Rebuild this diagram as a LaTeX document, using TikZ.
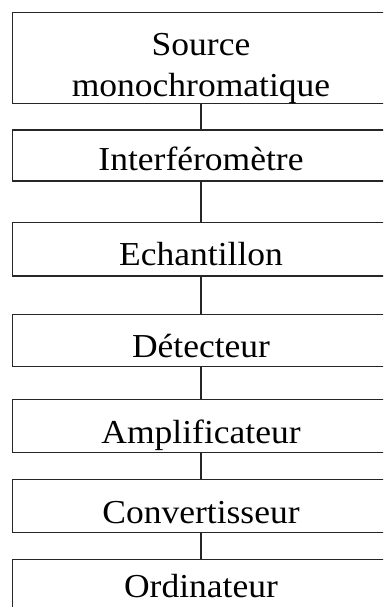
\documentclass[tikz,border=0pt]{standalone}
\usepackage{fontspec}
\setmainfont{Liberation Serif}
% slightly widened type for the stage names
\newcommand{\stagename}[1]{\scalebox{1.06}[1]{#1}}
\begin{document}
\begin{tikzpicture}[x=1pt, y=-1pt,
  box/.style={draw=black!85, line width=1.3pt, minimum width=376.6pt,
              inner sep=0pt, outer sep=0pt, anchor=north west},
  lbl/.style={font=\fontsize{33.5}{41}\selectfont, anchor=base, inner sep=0pt},
  link/.style={draw=black!85, line width=1.3pt}]
\useasboundingbox (0,0) rectangle (383,607);
\clip (0,0) rectangle (383,607);

% processing chain, top to bottom
\node[box, minimum height=91pt]   (src)  at (12.7,12.3)  {};
\node[box, minimum height=51pt]   (itf)  at (12.7,130)   {};
\node[box, minimum height=53.3pt] (ech)  at (12.7,222.7) {};
\node[box, minimum height=52.4pt] (det)  at (12.7,314.3) {};
\node[box, minimum height=53pt]   (amp)  at (12.7,399.3) {};
\node[box, minimum height=53pt]   (conv) at (12.7,479.3) {};
\node[box, minimum height=53pt]   (ord)  at (12.7,559.3) {};

% labels
\node[lbl] (tsrc1) at (201,56)    {\stagename{Source}};
\node[lbl] (tsrc2) at (201,96)    {\stagename{monochromatique}};
\node[lbl] (titf)  at (201,170)   {\stagename{Interféromètre}};
\node[lbl] (tech)  at (201,265)   {\stagename{Echantillon}};
\node[lbl] (tdet)  at (201,357)   {\stagename{Détecteur}};
\node[lbl] (tamp)  at (201,443)   {\stagename{Amplificateur}};
\node[lbl] (tconv) at (201,523)   {\stagename{Convertisseur}};
\node[lbl] (tord)  at (201,597)   {\stagename{Ordinateur}};

% links between stages
\draw[link] (src.south)  -- (itf.north);
\draw[link] (itf.south)  -- (ech.north);
\draw[link] (ech.south)  -- (det.north);
\draw[link] (det.south)  -- (amp.north);
\draw[link] (amp.south)  -- (conv.north);
\draw[link] (conv.south) -- (ord.north);
\end{tikzpicture}
\end{document}
